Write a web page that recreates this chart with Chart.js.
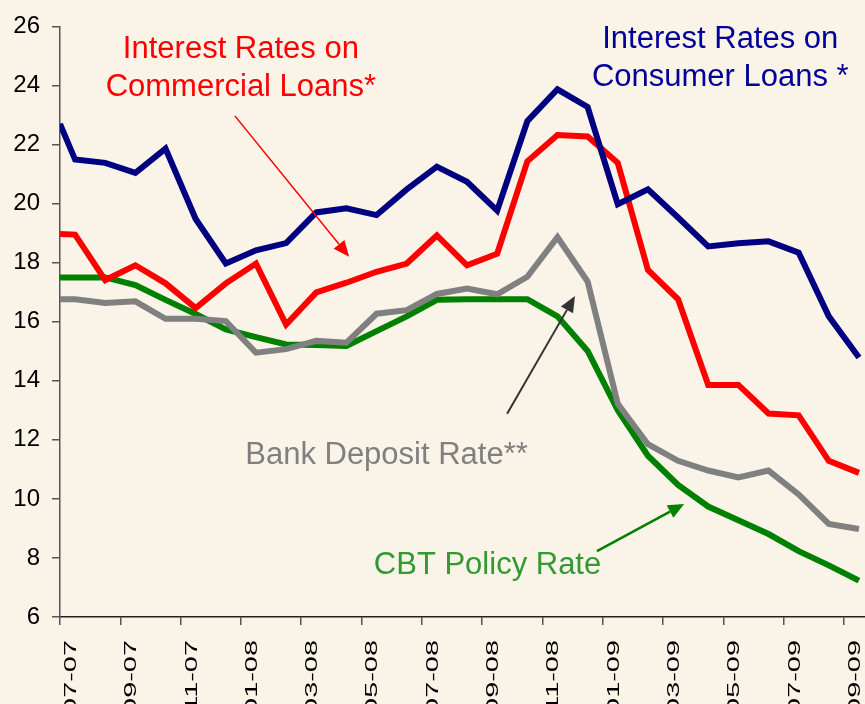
<!DOCTYPE html>
<html>
<head>
<meta charset="utf-8">
<script src="https://cdn.jsdelivr.net/npm/chart.js@4.4.1/dist/chart.umd.min.js"></script>
<style>
  html, body { margin: 0; padding: 0; background: #f9f3e8; }
  #wrap { width: 865px; height: 704px; }
</style>
</head>
<body>
<div id="wrap"><canvas id="rates"></canvas></div>
<script>
// Observation dates (first point at start of Jul 2007, then mid-month values)
const dates = [
  '2007-07-01', '2007-07-16', '2007-08-16', '2007-09-16', '2007-10-16', '2007-11-16', '2007-12-16',
  '2008-01-16', '2008-02-16', '2008-03-16', '2008-04-16', '2008-05-16', '2008-06-16',
  '2008-07-16', '2008-08-16', '2008-09-16', '2008-10-16', '2008-11-16', '2008-12-16',
  '2009-01-16', '2009-02-16', '2009-03-16', '2009-04-16', '2009-05-16', '2009-06-16',
  '2009-07-16', '2009-08-16', '2009-09-16'
];

// Tick labels every two months
const tickLabels = ['07-07', '09-07', '11-07', '01-08', '03-08', '05-08', '07-08',
  '09-08', '11-08', '01-09', '03-09', '05-09', '07-09', '09-09'];

// Series values (%)
const consumerLoans = [22.7, 21.49, 21.38, 21.04, 21.86, 19.48, 17.97, 18.42, 18.66, 19.7, 19.84, 19.61, 20.48,
  21.25, 20.74, 19.76, 22.79, 23.87, 23.27, 19.98, 20.48, 19.53, 18.55, 18.66, 18.72, 18.34, 16.18, 14.79];
const commercialLoans = [18.97, 18.95, 17.41, 17.91, 17.3, 16.46, 17.3, 17.97, 15.9, 16.99, 17.32, 17.69, 17.97,
  18.92, 17.91, 18.3, 21.43, 22.32, 22.27, 21.38, 17.75, 16.76, 13.86, 13.86, 12.89, 12.83, 11.29, 10.88];
const depositRate = [16.76, 16.76, 16.63, 16.69, 16.1, 16.1, 16.02, 14.95, 15.07, 15.35, 15.29, 16.27, 16.39,
  16.94, 17.12, 16.93, 17.52, 18.86, 17.36, 13.22, 11.85, 11.29, 10.96, 10.73, 10.96, 10.15, 9.15, 8.98];
const policyRate = [17.5, 17.5, 17.5, 17.24, 16.74, 16.26, 15.74, 15.48, 15.23, 15.21, 15.18, 15.68, 16.18,
  16.74, 16.76, 16.76, 16.76, 16.18, 15.01, 13.0, 11.46, 10.47, 9.74, 9.28, 8.81, 8.23, 7.75, 7.23];

// months since 1 Jul 2007
const monthsSince = (d) => {
  const [y, m, day] = d.split('-').map(Number);
  return (y - 2007) * 12 + (m - 7) + (day - 1) / 30;
};
const xs = dates.map(monthsSince);
const toPoints = (vals) => vals.map((v, i) => ({ x: xs[i], y: v }));

const FONT = '"Liberation Sans", Arial, sans-serif';

// text labels and arrows, positioned in data units (months, %)
const notes = [
  { lines: ['Interest Rates on', 'Commercial Loans*'], x: 6.0, y: 24.93, color: '#ff0000' },
  { lines: ['Interest Rates on', 'Consumer Loans *'], x: 21.9, y: 25.26, color: '#000099' },
  { lines: ['Bank Deposit Rate**'], x: 10.83, y: 11.18, color: '#808080' },
  { lines: ['CBT Policy Rate'], x: 14.18, y: 7.45, color: '#339933' }
];
const arrows = [
  { from: [5.8, 22.97], to: [9.59, 18.2], color: '#ff0000', width: 1.5 },
  { from: [14.83, 12.88], to: [17.08, 16.87], color: '#333333', width: 2 },
  { from: [17.81, 8.23], to: [20.7, 9.83], color: '#008000', width: 2.5 }
];

const background = {
  id: 'background',
  beforeDraw(chart) {
    const ctx = chart.ctx;
    ctx.save();
    ctx.fillStyle = '#f9f3e8';
    ctx.fillRect(0, 0, chart.width, chart.height);
    ctx.restore();
  }
};

function drawArrow(ctx, x1, y1, x2, y2, color, width) {
  const ang = Math.atan2(y2 - y1, x2 - x1);
  const len = 16, half = 7;
  const bx = x2 - len * Math.cos(ang), by = y2 - len * Math.sin(ang);
  ctx.save();
  ctx.strokeStyle = color;
  ctx.fillStyle = color;
  ctx.lineWidth = width;
  ctx.beginPath();
  ctx.moveTo(x1, y1);
  ctx.lineTo(bx, by);
  ctx.stroke();
  ctx.beginPath();
  ctx.moveTo(x2, y2);
  ctx.lineTo(bx + half * Math.sin(ang), by - half * Math.cos(ang));
  ctx.lineTo(bx - half * Math.sin(ang), by + half * Math.cos(ang));
  ctx.closePath();
  ctx.fill();
  ctx.restore();
}

const extras = {
  id: 'extras',
  afterDraw(chart) {
    const ctx = chart.ctx;
    const sx = chart.scales.x, sy = chart.scales.y;

    // rotated, stretched month labels under the x axis
    tickLabels.forEach((lab, i) => {
      const px = sx.getPixelForValue(i * 2);
      ctx.save();
      ctx.translate(px + 16, sy.bottom + 23);
      ctx.rotate(-Math.PI / 2);
      ctx.scale(1.7, 1);
      ctx.font = '17px ' + FONT;
      ctx.textAlign = 'right';
      ctx.textBaseline = 'alphabetic';
      ctx.fillStyle = '#000';
      ctx.fillText(lab, 0, 0);
      ctx.restore();
    });

    notes.forEach(n => {
      const px = sx.getPixelForValue(n.x), py = sy.getPixelForValue(n.y);
      ctx.save();
      ctx.font = '31px ' + FONT;
      ctx.fillStyle = n.color;
      ctx.textAlign = 'center';
      ctx.textBaseline = 'alphabetic';
      n.lines.forEach((t, k) => ctx.fillText(t, px, py + k * 38));
      ctx.restore();
    });

    arrows.forEach(a => {
      drawArrow(ctx,
        sx.getPixelForValue(a.from[0]), sy.getPixelForValue(a.from[1]),
        sx.getPixelForValue(a.to[0]), sy.getPixelForValue(a.to[1]),
        a.color, a.width);
    });
  }
};

const lineStyle = { borderWidth: 6, pointRadius: 0, tension: 0, fill: false };

new Chart('rates', {
  type: 'line',
  data: {
    datasets: [
      { label: 'Interest Rates on Consumer Loans', data: toPoints(consumerLoans), borderColor: '#000080', ...lineStyle },
      { label: 'Interest Rates on Commercial Loans', data: toPoints(commercialLoans), borderColor: '#ff0000', ...lineStyle },
      { label: 'Bank Deposit Rate', data: toPoints(depositRate), borderColor: '#808080', ...lineStyle },
      { label: 'CBT Policy Rate', data: toPoints(policyRate), borderColor: '#008000', ...lineStyle }
    ]
  },
  options: {
    responsive: true,
    maintainAspectRatio: false,
    animation: false,
    layout: { padding: { top: 20, left: 0, right: 0, bottom: 0 } },
    plugins: { legend: { display: false }, tooltip: { enabled: false } },
    scales: {
      x: {
        type: 'linear',
        min: 0,
        max: 26.7,
        afterBuildTicks: (scale) => {
          scale.ticks = tickLabels.map((_, i) => ({ value: i * 2 }));
        },
        afterFit: (scale) => { scale.height = 87; },
        ticks: { display: false },
        grid: { drawOnChartArea: false, drawTicks: true, tickLength: 8, color: '#555', lineWidth: 1.5 },
        border: { display: true, color: '#222', width: 1.5 }
      },
      y: {
        min: 6,
        max: 26,
        afterFit: (scale) => { scale.width = 60; },
        ticks: { stepSize: 2, color: '#000', padding: 12, font: { family: FONT, size: 24 } },
        grid: { drawOnChartArea: false, drawTicks: true, tickLength: 8, color: '#555', lineWidth: 1.5 },
        border: { display: true, color: '#555', width: 1.5 }
      }
    }
  },
  plugins: [background, extras]
});
</script>
</body>
</html>
